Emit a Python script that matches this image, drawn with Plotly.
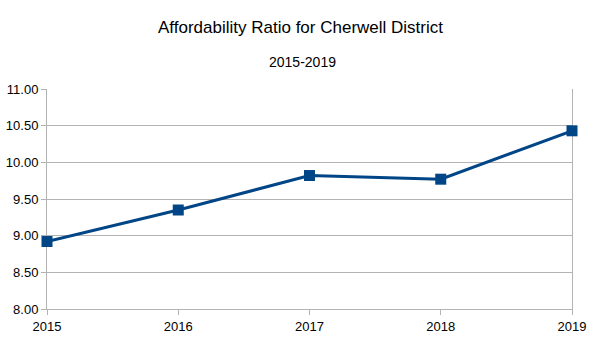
import plotly.graph_objects as go

years = [2015, 2016, 2017, 2018, 2019]
ratio = [8.92, 9.35, 9.82, 9.77, 10.43]
y_ticks = [8.0, 8.5, 9.0, 9.5, 10.0, 10.5, 11.0]

grid = "#b3b3b3"
font = "Liberation Sans, Arial, sans-serif"

W, H = 605, 340
L, R, T, B = 47, 33, 89, 31


def px_to_paper(px, py):
    """Convert a pixel position on the page to plot-area paper coordinates."""
    return (px - L) / (W - L - R), (H - B - py) / (H - T - B)


fig = go.Figure(
    go.Scatter(
        x=years,
        y=ratio,
        mode="lines+markers",
        line=dict(color="#004586", width=3),
        marker=dict(symbol="square", size=11, color="#004586"),
        cliponaxis=False,
    )
)

tx, ty = px_to_paper(300, 27)
sx, sy = px_to_paper(302, 62)

fig.update_layout(
    width=W,
    height=H,
    margin=dict(l=L, r=R, t=T, b=B),
    paper_bgcolor="white",
    plot_bgcolor="white",
    showlegend=False,
    font=dict(family=font, size=13, color="#000000"),
    annotations=[
        dict(text="Affordability Ratio for Cherwell District", x=tx, y=ty,
             xref="paper", yref="paper", showarrow=False, yanchor="middle",
             font=dict(size=17, family=font)),
        dict(text="2015-2019", x=sx, y=sy, xref="paper", yref="paper",
             showarrow=False, yanchor="middle",
             font=dict(size=14, family=font)),
    ],
)

fig.update_xaxes(
    range=[2015, 2019],
    tickvals=years,
    ticktext=[str(y) for y in years],
    showgrid=False,
    showline=True,
    linecolor=grid,
    linewidth=1,
    ticks="outside",
    ticklen=5,
    tickcolor=grid,
    zeroline=False,
    automargin=False,
    layer="below traces",
    tickfont=dict(size=13, color="#000000"),
)
fig.update_yaxes(
    range=[8, 11],
    tickvals=y_ticks,
    tickformat=".2f",
    showgrid=True,
    gridcolor=grid,
    gridwidth=1,
    showline=True,
    mirror=True,
    linecolor=grid,
    linewidth=1,
    ticks="outside",
    ticklen=5,
    tickcolor=grid,
    zeroline=False,
    automargin=False,
    layer="below traces",
    tickfont=dict(size=13, color="#000000"),
)

fig.write_html("out.html")
